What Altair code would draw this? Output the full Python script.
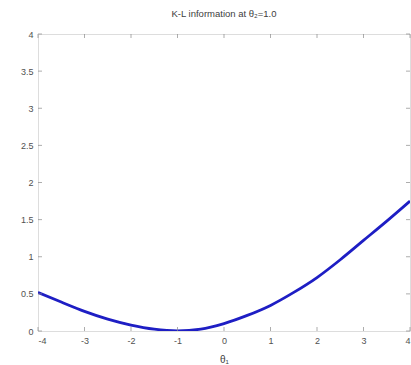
import altair as alt
import pandas as pd

# K-L information curve as a function of theta_1 (theta_2 held at 1.0)
theta1 = [-4.0, -3.5, -3.0, -2.5, -2.0, -1.5, -1.0, -0.5, 0.0, 0.5,
          1.0, 1.5, 2.0, 2.5, 3.0, 3.5, 4.0]
kl_info = [0.52, 0.39, 0.265, 0.16, 0.08, 0.025, 0.003, 0.025, 0.10, 0.21,
           0.345, 0.52, 0.72, 0.96, 1.22, 1.48, 1.75]

x_ticks = [-4, -3, -2, -1, 0, 1, 2, 3, 4]
y_ticks = [0, 0.5, 1, 1.5, 2, 2.5, 3, 3.5, 4]

curve = pd.DataFrame({"theta1": theta1, "kl": kl_info})
xt = pd.DataFrame({"t": x_ticks})
yt = pd.DataFrame({"t": y_ticks})

FONT = "Liberation Sans"
AX = "#8a8a8a"
LABEL = "#505050"

xscale = alt.Scale(domain=[-4, 4], nice=False, zero=False)
yscale = alt.Scale(domain=[0, 4], nice=False)

xaxis = alt.Axis(tickCount=len(x_ticks) - 1, title="θ₁", tickSize=0, domain=False,
                 grid=False, labelPadding=5, titlePadding=9,
                 labelFontSize=9, titleFontSize=10, titleFontWeight="normal",
                 labelColor=LABEL, titleColor="#404040",
                 labelFont=FONT, titleFont=FONT, labelOverlap=False,
                 labelExpr="replace(format(datum.value, '~g'), '\u2212', '-')")
yaxis = alt.Axis(tickCount=len(y_ticks) - 1, title=None, tickSize=0, domain=False,
                 grid=False, labelPadding=5, labelFontSize=9,
                 labelOverlap=False, labelColor=LABEL, labelFont=FONT,
                 labelExpr="format(datum.value, '~g')")

line = alt.Chart(curve).mark_line(
    color="#1e1ec4", strokeWidth=2.8, interpolate="monotone", clip=True
).encode(
    x=alt.X("theta1:Q", scale=xscale, axis=xaxis),
    y=alt.Y("kl:Q", scale=yscale, axis=yaxis),
)

# inward tick marks on all four sides of the box
bottom = alt.Chart(xt).mark_tick(orient="vertical", size=4, thickness=1,
                                 color=AX, yOffset=-2).encode(
    x=alt.X("t:Q", scale=xscale, axis=xaxis), y=alt.datum(0))
top = alt.Chart(xt).mark_tick(orient="vertical", size=4, thickness=1,
                              color=AX, yOffset=2).encode(
    x=alt.X("t:Q", scale=xscale, axis=xaxis), y=alt.datum(4))
left = alt.Chart(yt).mark_tick(orient="horizontal", size=4, thickness=1,
                               color=AX, xOffset=2).encode(
    y=alt.Y("t:Q", scale=yscale, axis=yaxis), x=alt.datum(-4))
right = alt.Chart(yt).mark_tick(orient="horizontal", size=4, thickness=1,
                                color=AX, xOffset=-2).encode(
    y=alt.Y("t:Q", scale=yscale, axis=yaxis), x=alt.datum(4))

chart = alt.layer(line, bottom, top, left, right).properties(
    width=372,
    height=297,
    title=alt.TitleParams("K-L information at θ₂=1.0", fontSize=9.5, font=FONT,
                          fontWeight="normal", color="#404040", offset=12),
    autosize=alt.AutoSizeParams(type="none"),
    padding={"left": 38, "top": 34, "right": 1, "bottom": 34},
).configure_view(stroke=AX, strokeWidth=1).configure(background="white")

chart.save("out.html", embed_options={"renderer": "svg", "actions": False})
